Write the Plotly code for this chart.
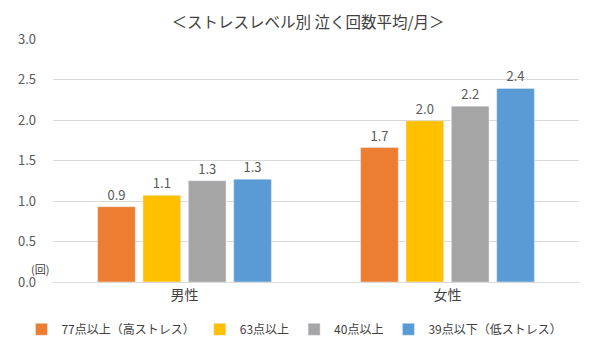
import plotly.graph_objects as go

categories = ["男性", "女性"]
series_names = ["77点以上（高ストレス）", "63点以上", "40点以上", "39点以下（低ストレス）"]
series_values = [
    [0.93, 1.66],
    [1.07, 1.99],
    [1.25, 2.17],
    [1.27, 2.39],
]
colors = ["#ED7D31", "#FFC000", "#A5A5A5", "#5B9BD5"]
y_ticks = [0.0, 0.5, 1.0, 1.5, 2.0, 2.5, 3.0]

FONT = "Noto Sans CJK JP"

fig = go.Figure()
for name, vals, col in zip(series_names, series_values, colors):
    fig.add_trace(go.Bar(
        x=categories, y=vals, name=name, marker_color=col,
        texttemplate="%{y:.1f}", textposition="outside",
        textfont=dict(size=13, color="#595959", family=FONT),
        cliponaxis=False,
    ))

fig.update_layout(
    width=600, height=360,
    margin=dict(l=45, r=29, t=31, b=86, autoexpand=False),
    paper_bgcolor="white", plot_bgcolor="white",
    barmode="group", bargap=0.31, bargroupgap=0.17,
    font=dict(family=FONT, color="#404040"),
    title=dict(text="＜ストレスレベル別 泣く回数平均/月＞", x=0.5, xanchor="center",
               y=0.96, yanchor="middle", font=dict(size=15.5, color="#404040", family=FONT)),
    showlegend=True,
    legend=dict(orientation="h", x=-0.06, xanchor="left", y=-0.135, yanchor="top",
                font=dict(size=12, color="#404040", family=FONT),
                itemwidth=30, tracegroupgap=0, bgcolor="rgba(0,0,0,0)"),
)
fig.update_yaxes(range=[0, 3], tickvals=y_ticks, tickformat=".1f",
                 gridcolor="#D9D9D9", gridwidth=1, zeroline=False,
                 tickfont=dict(size=13, color="#595959"), ticklabelstandoff=16,
                 showline=False)
fig.update_xaxes(showline=True, linecolor="#D9D9D9", linewidth=1,
                 tickfont=dict(size=14, color="#404040"), ticks="")
fig.add_annotation(text="(回)", xref="paper", yref="paper", x=-0.025, y=0.055,
                   xanchor="center", yanchor="middle", showarrow=False,
                   font=dict(size=11, color="#404040", family=FONT))

fig.write_html("out.html")
